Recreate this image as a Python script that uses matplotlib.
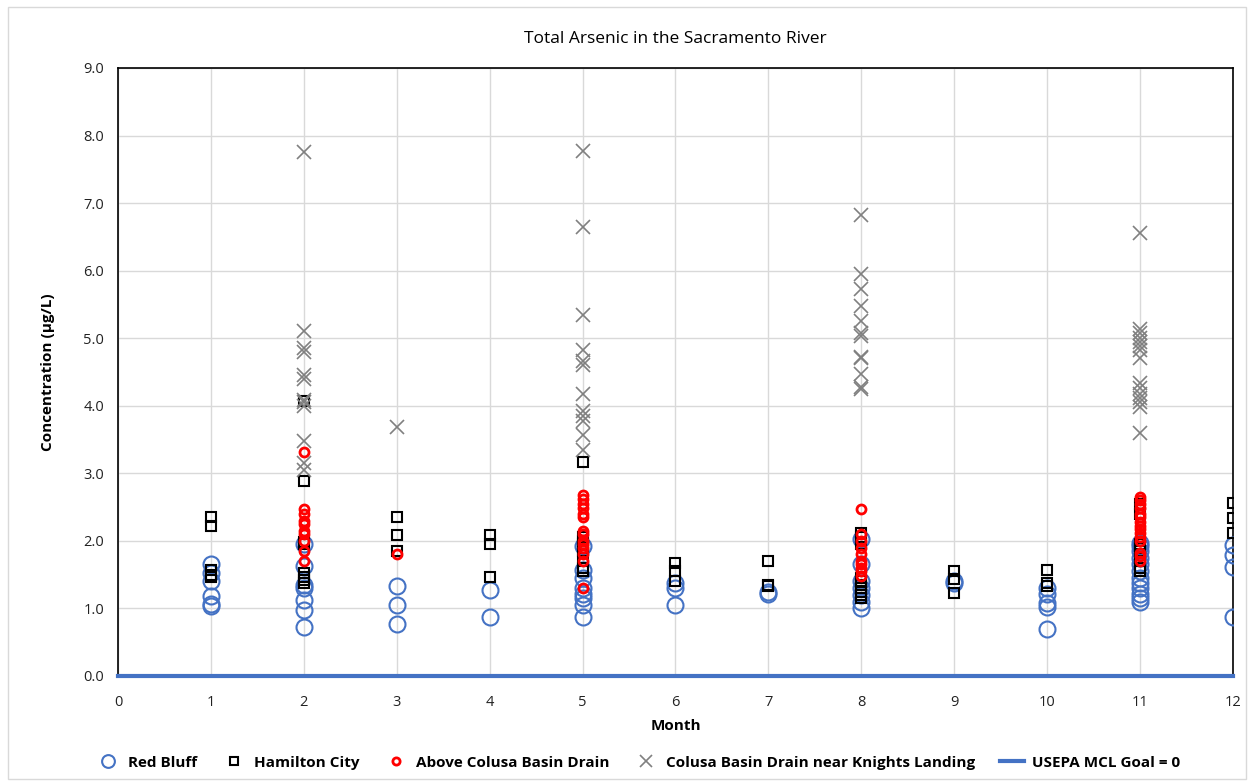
import numpy as np
import matplotlib
matplotlib.use('Agg')
import matplotlib.pyplot as plt
from matplotlib.patches import Rectangle

plt.rcParams['font.family'] = ['Open Sans', 'DejaVu Sans']

# 월별 측정값 (µg/L)
red_bluff = {
    1: [1.65, 1.52, 1.40, 1.18, 1.07, 1.03],
    2: [1.95, 1.63, 1.35, 1.30, 1.12, 0.98, 0.73],
    3: [1.33, 1.05, 0.77],
    4: [1.27, 0.87],
    5: [1.93, 1.57, 1.45, 1.30, 1.22, 1.15, 1.05, 0.87],
    6: [1.38, 1.30, 1.05],
    7: [1.25, 1.22],
    8: [2.03, 1.65, 1.40, 1.30, 1.20, 1.10, 1.00],
    9: [1.40, 1.38],
    10: [1.30, 1.22, 1.08, 1.02, 0.70],
    11: [1.97, 1.92, 1.85, 1.75, 1.65, 1.55, 1.45, 1.38, 1.30, 1.22, 1.15, 1.10],
    12: [1.94, 1.79, 1.61, 0.87],
}
hamilton_city = {
    1: [2.35, 2.22, 1.57, 1.50, 1.47],
    2: [4.07, 2.89, 1.98, 1.95, 1.52, 1.47, 1.42, 1.38],
    3: [2.36, 2.08, 1.85],
    4: [2.08, 1.95, 1.47],
    5: [3.17, 2.05, 2.00, 1.95, 1.85, 1.75, 1.60, 1.55],
    6: [1.67, 1.55, 1.40],
    7: [1.70, 1.35, 1.33],
    8: [2.12, 2.05, 1.95, 1.45, 1.40, 1.35, 1.30, 1.25, 1.20, 1.15],
    9: [1.55, 1.43, 1.23],
    10: [1.57, 1.38, 1.33],
    11: [2.55, 2.40, 1.95, 1.90, 1.85, 1.70, 1.60, 1.55],
    12: [2.56, 2.34, 2.12],
}
above_colusa = {
    2: [3.32, 2.47, 2.40, 2.30, 2.25, 2.15, 2.10, 2.00, 1.85, 1.70],
    3: [1.80],
    5: [2.68, 2.62, 2.55, 2.48, 2.40, 2.35, 2.15, 2.10, 2.00, 1.95, 1.90, 1.80, 1.70, 1.30],
    8: [2.47, 2.10, 2.00, 1.90, 1.80, 1.70, 1.65, 1.60, 1.55, 1.48],
    11: [2.65, 2.60, 2.55, 2.48, 2.40, 2.35, 2.28, 2.22, 2.18, 2.12, 2.05, 2.00, 1.82, 1.78, 1.70],
}
colusa_knights = {
    2: [7.75, 5.10, 4.85, 4.80, 4.45, 4.40, 4.08, 4.05, 4.00, 3.48, 3.15, 3.05],
    3: [3.68],
    5: [7.77, 6.65, 5.35, 4.82, 4.66, 4.60, 4.18, 3.92, 3.85, 3.78, 3.57, 3.35],
    8: [6.82, 5.95, 5.73, 5.48, 5.25, 5.07, 5.03, 4.72, 4.70, 4.47, 4.28, 4.25],
    11: [6.55, 5.13, 5.07, 5.00, 4.95, 4.88, 4.82, 4.70, 4.33, 4.27, 4.18, 4.12, 4.05, 3.98, 3.60],
}
mcl_goal = 0.0
months = list(range(0, 13))

def flatten(d):
    xs, ys = [], []
    for m, vals in d.items():
        xs += [m] * len(vals)
        ys += vals
    return np.array(xs), np.array(ys)

fig = plt.figure(figsize=(12.51, 7.84), dpi=100)
ax = fig.add_axes([0.0943, 0.1378, 0.8913, 0.7755])

x, y = flatten(red_bluff)
ax.plot(x, y, 'o', ls='none', ms=11.5, mfc='none', mec='#4472C4', mew=1.5, label='Red Bluff', zorder=3)
x, y = flatten(hamilton_city)
ax.plot(x, y, 's', ls='none', ms=6.5, mfc='none', mec='black', mew=1.5, label='Hamilton City', zorder=4)
x, y = flatten(above_colusa)
ax.plot(x, y, 'o', ls='none', ms=6.5, mfc='none', mec='#FF0000', mew=2, label='Above Colusa Basin Drain', zorder=5)
x, y = flatten(colusa_knights)
ax.plot(x, y, 'x', ls='none', ms=10, mec='#808080', mew=1.2, label='Colusa Basin Drain near Knights Landing', zorder=6)
ax.plot([0, 12], [mcl_goal, mcl_goal], color='#4472C4', lw=3, label='USEPA MCL Goal = 0', zorder=7, clip_on=False)

ax.set_xlim(0, 12)
ax.set_ylim(0, 9)
ax.set_xticks(months)
ax.set_yticks(np.arange(0, 9.1, 1.0))
ax.set_yticklabels([f'{v:.1f}' for v in np.arange(0, 9.1, 1.0)])
ax.tick_params(length=0, labelsize=10.5, colors='#222222', pad=10)
ax.tick_params(axis='x', pad=14)
ax.grid(True, color='#D9D9D9', lw=1)
ax.set_axisbelow(True)
for s in ax.spines.values():
    s.set_color('black')
    s.set_linewidth(1.2)

ax.set_title('Total Arsenic in the Sacramento River', fontsize=12.5, pad=18)
ax.set_xlabel('Month', fontsize=11, fontweight='bold', labelpad=6)
ax.set_ylabel('Concentration (µg/L)', fontsize=11, fontweight='bold', labelpad=20)

leg = fig.legend(loc='center', bbox_to_anchor=(0.51, 0.027), ncol=5, frameon=False,
                 prop={'weight': 'bold', 'size': 11}, handlelength=1.6, columnspacing=1.6,
                 handletextpad=0.5, markerscale=0.8)

fig.patches.append(Rectangle((0.006, 0.006), 0.99, 0.985, transform=fig.transFigure,
                             fill=False, ec='#D9D9D9', lw=1))

fig.savefig('out.png', dpi=100)
